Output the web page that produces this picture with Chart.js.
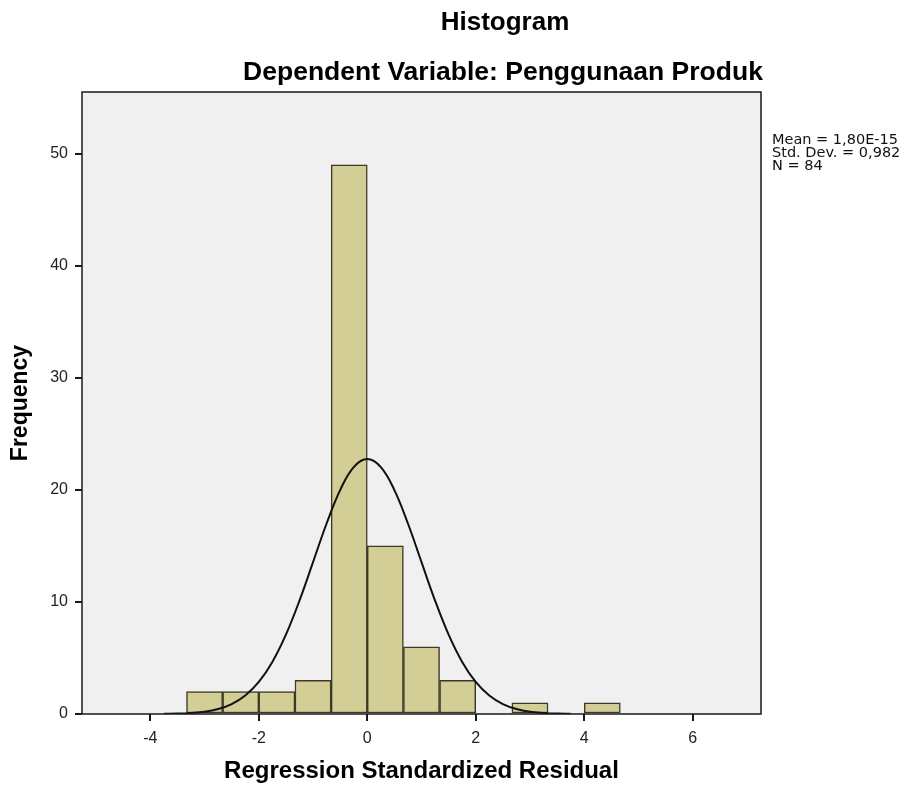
<!DOCTYPE html>
<html>
<head>
<meta charset="utf-8">
<script src="https://cdn.jsdelivr.net/npm/chart.js@4.4.1/dist/chart.umd.min.js"></script>
<style>
  body { margin: 0; background: #fff; }
  canvas { display: block; }
</style>
</head>
<body>
<canvas id="histChart" width="914" height="793"></canvas>
<script>
// bin centres (bin width 2/3) and counts
const binCenters = [-3, -2.333, -1.667, -1, -0.333, 0.333, 1, 1.667, 2.333, 3, 3.667, 4.333];
const binCounts  = [2, 2, 2, 3, 49, 15, 6, 3, 0, 1, 0, 1];

// normal curve
const curveX = [-3.75, -3.5, -3.25, -3, -2.75, -2.5, -2.25, -2, -1.75, -1.5, -1.25, -1, -0.75, -0.5, -0.25,
                0, 0.25, 0.5, 0.75, 1, 1.25, 1.5, 1.75, 2, 2.25, 2.5, 2.75, 3, 3.25, 3.5, 3.75];
const curveY = [0.02, 0.04, 0.1, 0.21, 0.45, 0.89, 1.65, 2.86, 4.65, 7.08, 10.12, 13.55, 17.0, 19.98, 22.03,
                22.75, 22.03, 19.98, 17.0, 13.55, 10.12, 7.08, 4.65, 2.86, 1.65, 0.89, 0.45, 0.21, 0.1, 0.04, 0.02];

const statLines = ['Mean = 1,80E-15', 'Std. Dev. = 0,982', 'N = 84'];
const titleText = 'Histogram';
const subtitleText = 'Dependent Variable: Penggunaan Produk';

const FONT = '"Liberation Sans", Arial, sans-serif';

// plot background, frame and the text outside the axes
const decorations = {
  id: 'decorations',
  beforeDatasetsDraw(chart) {
    const { ctx, chartArea: a } = chart;
    ctx.save();
    ctx.fillStyle = '#f0f0f0';
    ctx.fillRect(a.left, a.top, a.right - a.left, a.bottom - a.top);
    ctx.restore();
  },
  afterDraw(chart) {
    const { ctx, chartArea: a } = chart;
    ctx.save();
    ctx.strokeStyle = '#1a1a1a';
    ctx.lineWidth = 1.5;
    ctx.strokeRect(a.left, a.top, a.right - a.left, a.bottom - a.top);

    ctx.fillStyle = '#000';
    ctx.textAlign = 'center';
    ctx.textBaseline = 'alphabetic';
    ctx.font = 'bold 26px ' + FONT;
    ctx.fillText(titleText, 505, 30);
    ctx.font = 'bold 26.5px ' + FONT;
    ctx.fillText(subtitleText, 503, 80);

    ctx.textAlign = 'left';
    ctx.font = '14.5px "DejaVu Sans", sans-serif';
    ctx.fillStyle = '#111';
    statLines.forEach((t, i) => ctx.fillText(t, 772, 144 + i * 13));
    ctx.restore();
  }
};

const ctx = document.getElementById('histChart').getContext('2d');
const histChart = new Chart(ctx, {
  type: 'bar',
  data: {
    datasets: [
      {
        type: 'line',
        data: curveX.map((x, i) => ({ x, y: curveY[i] })),
        borderColor: '#111',
        borderWidth: 2,
        pointRadius: 0,
        tension: 0.4,
        fill: false,
        order: 0
      },
      {
        type: 'bar',
        data: binCenters.map((x, i) => ({ x, y: binCounts[i] })),
        backgroundColor: '#d2ce95',
        borderColor: '#3a3a26',
        borderWidth: 1.5,
        borderSkipped: false,
        barPercentage: 1,
        categoryPercentage: 1,
        order: 1
      }
    ]
  },
  options: {
    responsive: false,
    animation: false,
    layout: { padding: { left: 0, top: 92, right: 153, bottom: 0 } },
    plugins: { legend: { display: false }, tooltip: { enabled: false } },
    scales: {
      x: {
        type: 'linear',
        min: -5.26,
        max: 7.26,
        offset: false,
        afterFit(scale) { scale.height = 79; },
        grid: { offset: false, drawOnChartArea: false, tickLength: 7, color: '#1a1a1a', lineWidth: 2 },
        border: { display: false },
        ticks: {
          stepSize: 2,
          includeBounds: false,
          padding: 8,
          color: '#222',
          font: { family: FONT, size: 16 }
        },
        title: {
          display: true,
          text: 'Regression Standardized Residual',
          color: '#000',
          font: { family: FONT, size: 24, weight: 'bold' },
          padding: { top: 0, bottom: 7 }
        }
      },
      y: {
        min: 0,
        max: 55.5,
        afterFit(scale) { scale.width = 82; },
        grid: { drawOnChartArea: false, tickLength: 7, color: '#1a1a1a', lineWidth: 2 },
        border: { display: false },
        ticks: {
          stepSize: 10,
          includeBounds: false,
          padding: 7,
          color: '#222',
          font: { family: FONT, size: 16 }
        },
        title: {
          display: true,
          text: 'Frequency',
          color: '#000',
          font: { family: FONT, size: 23, weight: 'bold' },
          padding: { top: 7, bottom: 0 }
        }
      }
    }
  },
  plugins: [decorations]
});
</script>
</body>
</html>
